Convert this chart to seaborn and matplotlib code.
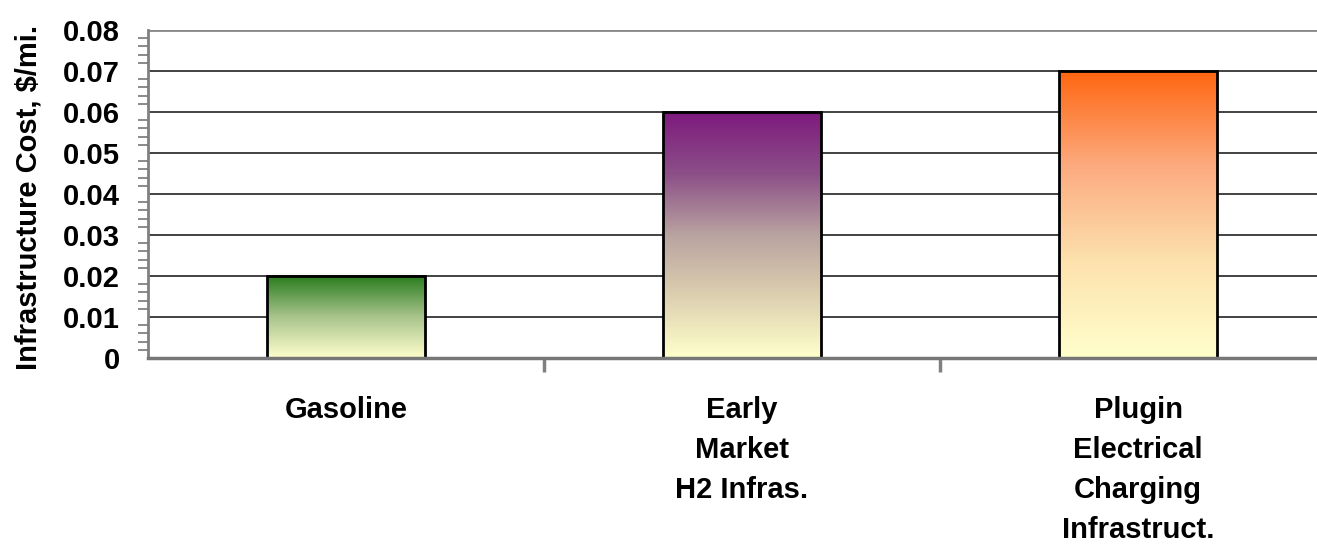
import numpy as np
import pandas as pd
import matplotlib
matplotlib.use("Agg")
import matplotlib.pyplot as plt
from matplotlib.colors import LinearSegmentedColormap
from matplotlib.ticker import MultipleLocator, FixedLocator
import seaborn as sns

categories = ["Gasoline", "Early\nMarket\nH2 Infras.", "Plugin\nElectrical\nCharging\nInfrastruct."]
values = [0.02, 0.06, 0.07]
ylabel = "Infrastructure Cost, $/mi."
yticks = [0, 0.01, 0.02, 0.03, 0.04, 0.05, 0.06, 0.07, 0.08]
ytick_labels = ["0", "0.01", "0.02", "0.03", "0.04", "0.05", "0.06", "0.07", "0.08"]

# gradient stops (bottom -> top) for each bar
gradients = [
    ["#ffffcc", "#a9c48d", "#2a7d1f"],
    ["#ffffcc", "#ddd0b0", "#b9a3a0", "#8c4f88", "#7e1a7e"],
    ["#ffffcc", "#fde2ae", "#fcab80", "#ff6611"],
]

sns.set_style("white")
plt.rcParams['font.family'] = ['Liberation Sans', 'DejaVu Sans']
plt.rcParams['font.weight'] = 'bold'
plt.rcParams['text.color'] = 'black'
plt.rcParams['xtick.color'] = 'black'
plt.rcParams['ytick.color'] = 'black'
plt.rcParams['axes.labelcolor'] = 'black'

fig = plt.figure(figsize=(13.17, 5.47), dpi=100)
ax = fig.add_axes([148/1317, 1 - 358/547, (1336-148)/1317, 328/547])

df = pd.DataFrame({"cat": categories, "val": values})
sns.barplot(data=df, x="cat", y="val", width=0.4, color="white",
            edgecolor="black", linewidth=2, ax=ax, zorder=3)

# gradient fills
for patch, stops in zip(ax.patches, gradients):
    x0, y0 = patch.get_x(), patch.get_y()
    w, h = patch.get_width(), patch.get_height()
    cmap = LinearSegmentedColormap.from_list("g", stops)
    grad = np.linspace(0, 1, 256).reshape(-1, 1)
    im = ax.imshow(grad, cmap=cmap, origin="lower", aspect="auto",
                   extent=[x0, x0 + w, y0, y0 + h], zorder=2.5)
    im.set_clip_path(patch)
    patch.set_facecolor("none")
ax.set_xlim(-0.5, 2.5)
ax.set_ylim(0, 0.08)

# grid
ax.set_yticks(yticks)
ax.set_yticklabels(ytick_labels, fontsize=21, fontweight='bold')
ax.yaxis.set_minor_locator(MultipleLocator(0.002))
for y in yticks[1:-1]:
    ax.axhline(y, color="#222222", linewidth=1.2, zorder=1)
ax.axhline(0.08, color="#888888", linewidth=2, zorder=1)

ax.tick_params(axis="y", which="major", direction="out", length=10, width=1.5,
               color="#777777", pad=10, labelsize=21)
ax.tick_params(axis="y", which="minor", direction="out", length=7, width=1.2,
               color="#777777", left=True)

ax.set_xticks(range(len(categories)))
ax.set_xticklabels(categories, fontsize=21, fontweight='bold', linespacing=1.55)
ax.xaxis.set_minor_locator(FixedLocator([0.5, 1.5]))
ax.tick_params(axis="x", which="major", length=0, pad=27)
ax.tick_params(axis="x", which="minor", direction="out", length=10, width=2.5,
               color="#808080", bottom=True)

for s in ["top", "right"]:
    ax.spines[s].set_visible(False)
ax.spines["left"].set_color("#808080")
ax.spines["left"].set_linewidth(2)
ax.spines["bottom"].set_color("#777777")
ax.spines["bottom"].set_linewidth(2.5)
ax.spines["bottom"].set_zorder(4)

ax.set_xlabel("")
ax.set_ylabel(ylabel, fontsize=21, fontweight='bold')
ax.yaxis.set_label_coords(-0.089, 0.49)

fig.savefig("out.png", dpi=100)
